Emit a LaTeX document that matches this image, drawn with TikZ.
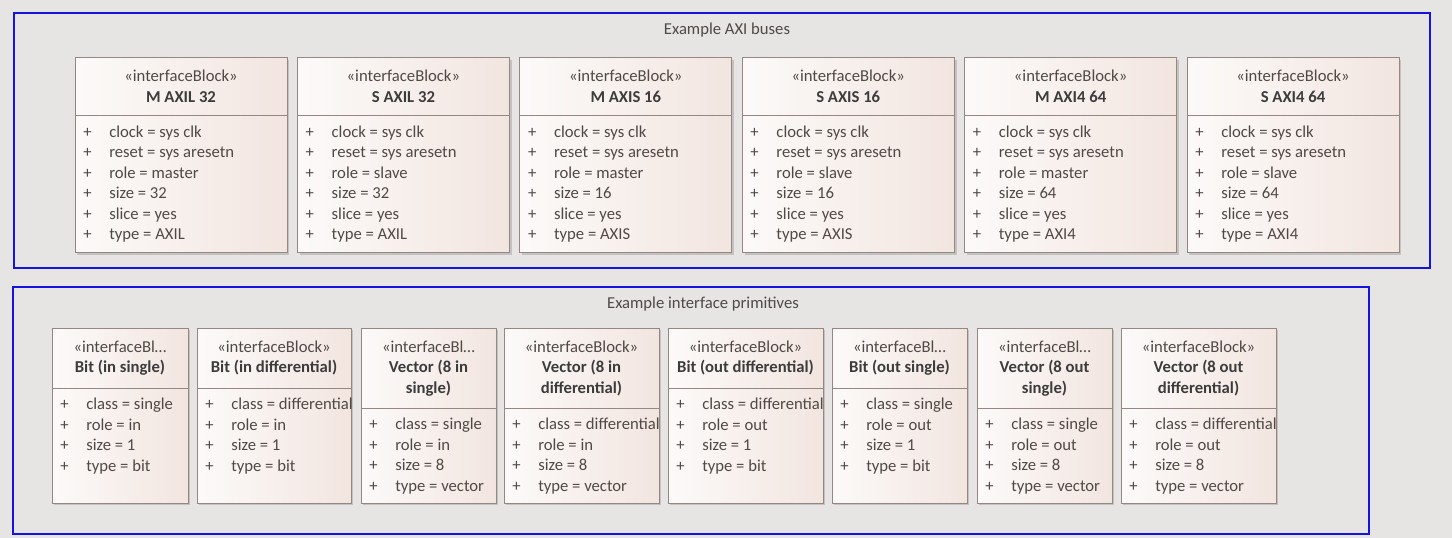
\documentclass[tikz,border=0pt]{standalone}
\usepackage{fontspec}
\setmainfont{Carlito}
\usetikzlibrary{shadows}

\definecolor{canvas}{HTML}{E6E5E3}
\definecolor{frameblue}{HTML}{1414E0}
\definecolor{boxline}{HTML}{978783}
\definecolor{boxlight}{HTML}{FCFAF9}
\definecolor{boxpink}{HTML}{F2E5E0}
\definecolor{inktext}{HTML}{504946}
\definecolor{inkhead}{HTML}{3C3C3C}

\tikzset{
  pkgframe/.style={draw=frameblue, line width=1.6pt},
  pkgtitle/.style={font=\fontsize{12.5}{15}\selectfont, text=inktext, inner sep=0pt},
  ifbox/.style={draw=boxline, line width=0.75pt, inner sep=0pt,
    left color=boxlight, right color=boxpink,
    drop shadow={shadow xshift=1.8pt, shadow yshift=-1.8pt, fill=black, opacity=0.15}},
  stereo/.style={anchor=base, inner sep=0pt, font=\fontsize{12.5}{15}\selectfont, text=inktext},
  bname/.style={align=center, inner sep=0pt, font=\fontsize{12.5}{15.4}\selectfont\bfseries, text=inkhead},
  attr/.style={anchor=base west, inner sep=0pt, font=\fontsize{12.5}{15}\selectfont, text=inktext},
}

% one interface block: name, left, top, width, height, header height, stereotype, title, attributes
\newcommand{\ifblock}[9]{%
  \node[ifbox, minimum width=#4*0.75pt, minimum height=#5*0.75pt] (#1) at ({#2+#4/2},{#3+#5/2}) {};
  \draw[boxline, line width=0.75pt] (#2,#3+#6) -- (#2+#4,#3+#6);
  \node[stereo] (#1-st) at (#2+#4/2,#3+24) {#7};
  \node[bname] (#1-nm) at (#2+#4/2,#3+#6/2+10) {#8};
  \foreach \a [count=\i] in {#9} {
    \node[attr] (#1-p\i) at (#2+8,#3+#6+1+20.5*\i) {+};
    \node[attr] (#1-a\i) at (#2+34,#3+#6+1+20.5*\i) {\a};
  }
}

\begin{document}
\begin{tikzpicture}[x=0.75pt,y=-0.75pt]
  \fill[canvas] (0,0) rectangle (1452,538);

  % AXI buses
  \draw[pkgframe] (14,13) rectangle (1430,268);
  \node[pkgtitle] (buses) at (727,30.5) {Example AXI buses};
  \foreach \nm/\role/\sz/\ty [count=\k from 0] in
      {M AXIL 32/master/32/AXIL, S AXIL 32/slave/32/AXIL,
       M AXIS 16/master/16/AXIS, S AXIS 16/slave/16/AXIS,
       M AXI4 64/master/64/AXI4, S AXI4 64/slave/64/AXI4} {
    \ifblock{bus\k}{75+222.4*\k}{58}{212}{195}{58}{«interfaceBlock»}{\nm}
      {clock = sys clk, reset = sys aresetn, role = \role, size = \sz, slice = yes, type = \ty}
  }

  % interface primitives
  \draw[pkgframe] (13,287) rectangle (1369,534);
  \node[pkgtitle] (prims) at (703,304.5) {Example interface primitives};
  \ifblock{bitis}{52}{328}{136}{175}{60}{«interfaceBl…}{Bit (in single)}
    {class = single, role = in, size = 1, type = bit}
  \ifblock{bitid}{197}{328}{154}{175}{60}{«interfaceBlock»}{Bit (in differential)}
    {class = differential, role = in, size = 1, type = bit}
  \ifblock{vecis}{361}{328}{135}{175}{80}{«interfaceBl…}{Vector (8 in\\single)}
    {class = single, role = in, size = 8, type = vector}
  \ifblock{vecid}{504}{328}{155}{175}{80}{«interfaceBlock»}{Vector (8 in\\differential)}
    {class = differential, role = in, size = 8, type = vector}
  \ifblock{bitod}{668}{328}{155}{175}{60}{«interfaceBlock»}{Bit (out differential)}
    {class = differential, role = out, size = 1, type = bit}
  \ifblock{bitos}{832}{328}{135}{175}{60}{«interfaceBl…}{Bit (out single)}
    {class = single, role = out, size = 1, type = bit}
  \ifblock{vecos}{977}{328}{135}{175}{80}{«interfaceBl…}{Vector (8 out\\single)}
    {class = single, role = out, size = 8, type = vector}
  \ifblock{vecod}{1121}{328}{155}{175}{80}{«interfaceBlock»}{Vector (8 out\\differential)}
    {class = differential, role = out, size = 8, type = vector}
\end{tikzpicture}
\end{document}
